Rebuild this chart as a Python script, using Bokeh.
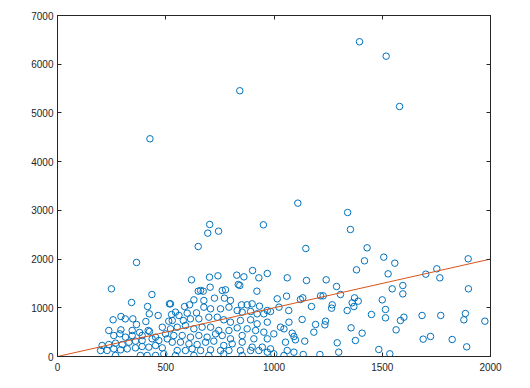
from bokeh.plotting import figure
from bokeh.models import Range1d, LinearAxis, FixedTicker
from bokeh.embed import file_html
from bokeh.resources import INLINE

# ---- data ----
x_vals = [
    # top outliers
    1395, 1518, 842, 1580, 427,
    703, 694, 650, 365,
    1110, 1340, 951, 1353, 744, 1147, 1430, 1418, 1381, 901,
    1507, 1558, 1897, 1701, 1752,
    1766, 1898, 1684, 1770, 1884, 1877, 1974, 1689, 1723, 1823, 1890,
    # right-middle cluster
    1527, 1150, 1241, 1289, 1595, 1546, 1595, 1215, 1227, 1307, 1122, 1133, 1372, 1389,
    1361, 1369, 1269, 1266, 1173, 1500, 1338, 1068, 1450, 1515, 1515, 1584, 1600, 1130,
    1238, 1235, 1192, 1356, 1184, 1564, 1407, 1084, 1092, 1099, 1142, 1376, 1292, 1092,
    1135, 1212, 1299, 1484, 1535,
    # left cluster
    249, 436, 342, 517, 416, 424, 465, 527, 293, 313, 348, 257, 408, 365, 514, 237, 293,
    345, 419, 379, 425, 484, 288, 260, 314, 345, 391, 453, 499, 206, 237, 268, 299, 330,
    360, 391, 437, 468, 507, 199, 229, 260, 291, 322, 360, 391, 422, 453, 484, 268, 383,
    414, 491, 453,
    # middle cluster
    619, 702, 741, 828, 861, 930, 969, 1061, 842, 835, 661, 673, 650, 705, 761, 776, 921,
    1015, 1058, 522, 587, 610, 630, 676, 725, 771, 799, 850, 876, 899, 933, 969, 1023,
    545, 561, 599, 642, 676, 707, 753, 792, 830, 853, 892, 922, 953, 984, 530, 581, 614,
    653, 699, 738, 768, 799, 845, 892, 922, 969, 1030, 1069, 1046, 522, 553, 591, 630,
    668, 707, 745, 792, 830, 876, 915, 953, 999, 537, 576, 614, 653, 691, 730, 761, 799,
    853, 907, 969, 1053, 530, 568, 607, 645, 684, 722, 768, 807, 853, 899, 946, 984,
    1061, 553, 591, 622, 661, 707, 753, 792, 845, 892, 930, 969, 545, 630, 699, 768, 853,
    999, 1046,
]
y_vals = [
    6461, 6165, 5455, 5132, 4469,
    2710, 2532, 2258, 1930,
    3148, 2956, 2703, 2607, 2573, 2217, 2231, 1964, 1779, 1765,
    2039, 1916, 2005, 1690, 1800,
    1615, 1389, 842, 842, 883, 753, 725, 356, 411, 349, 198,
    1697, 1560, 1574, 1437, 1458, 1389, 1286, 1245, 1245, 1273, 1170, 1204, 1204, 1136,
    1102, 1026, 1061, 992, 1026, 1163, 944, 944, 862, 965, 794, 739, 807, 760,
    725, 650, 657, 588, 500, 547, 479, 479, 411, 342, 315, 328, 281, 89,
    41, 41, 89, 144, 55,
    1389, 1273, 1109, 1081, 1026, 876, 842, 862, 821, 773, 773, 753, 718, 657, 725, 534, 547,
    534, 534, 493, 513, 602, 465, 431, 397, 431, 431, 397, 465, 226, 246, 274, 246, 294,
    315, 328, 363, 328, 363, 123, 123, 157, 137, 157, 178, 205, 192, 226, 178, 21, 21,
    21, 55, 21,
    1574, 1629, 1656, 1670, 1635, 1615, 1704, 1615, 1458, 1478, 1355, 1341, 1341, 1423, 1355, 1369, 1341,
    1184, 1239, 1081, 1026, 1061, 1163, 1150, 1198, 1198, 1150, 1061, 1061, 1081, 1033, 944, 1013,
    910, 842, 890, 896, 1013, 979, 979, 1013, 944, 910, 924, 876, 876, 924, 739, 739, 773,
    773, 807, 807, 753, 705, 739, 753, 671, 705, 602, 705, 568, 568, 602, 636, 568,
    602, 602, 534, 534, 588, 568, 534, 500, 465, 431, 431, 397, 431, 397, 465, 431, 363,
    431, 363, 363, 294, 294, 294, 260, 246, 294, 315, 226, 260, 294, 192, 192, 157,
    123, 123, 123, 157, 123, 137, 123, 123, 123, 123, 123, 89, 21, 21, 21, 55, 21,
    55, 21,
]
line_x = [0, 2000]
line_y = [0, 2000]
x_ticks = [0, 500, 1000, 1500, 2000]
y_ticks = [0, 1000, 2000, 3000, 4000, 5000, 6000, 7000]

DARK = "#262626"
FONT = "Liberation Sans"

p = figure(width=528, height=386, output_backend="svg", toolbar_location=None,
           x_range=Range1d(0, 2000), y_range=Range1d(0, 7000),
           x_axis_location=None, y_axis_location=None,
           min_border_left=57, min_border_right=38, min_border_top=15, min_border_bottom=30)
p.grid.visible = False
p.background_fill_color = "white"
p.border_fill_color = "white"
p.outline_line_color = DARK
p.outline_line_width = 1


def style(ax, labels=True, standoff=4):
    ax.major_tick_in = 4
    ax.major_tick_out = 0
    ax.minor_tick_line_color = None
    ax.axis_line_color = DARK
    ax.major_tick_line_color = DARK
    ax.major_label_text_font = FONT
    ax.major_label_text_color = DARK
    ax.major_label_text_font_size = "10px"
    ax.major_label_standoff = standoff
    if not labels:
        ax.major_label_overrides = {t: "" for t in ax.ticker.ticks}
        ax.major_label_standoff = 0


xb = LinearAxis(ticker=FixedTicker(ticks=x_ticks))
style(xb, True, 6)
p.add_layout(xb, "below")
yl = LinearAxis(ticker=FixedTicker(ticks=y_ticks))
style(yl, True, 4)
p.add_layout(yl, "left")
xa = LinearAxis(ticker=FixedTicker(ticks=x_ticks))
style(xa, False)
p.add_layout(xa, "above")
yr = LinearAxis(ticker=FixedTicker(ticks=y_ticks))
style(yr, False)
p.add_layout(yr, "right")

p.scatter(x_vals, y_vals, marker="circle", size=6.5, fill_color=None,
          line_color="#0072BD", line_width=1)
p.line(line_x, line_y, line_color="#D95319", line_width=1)

open("out.html", "w").write(file_html(p, INLINE))
